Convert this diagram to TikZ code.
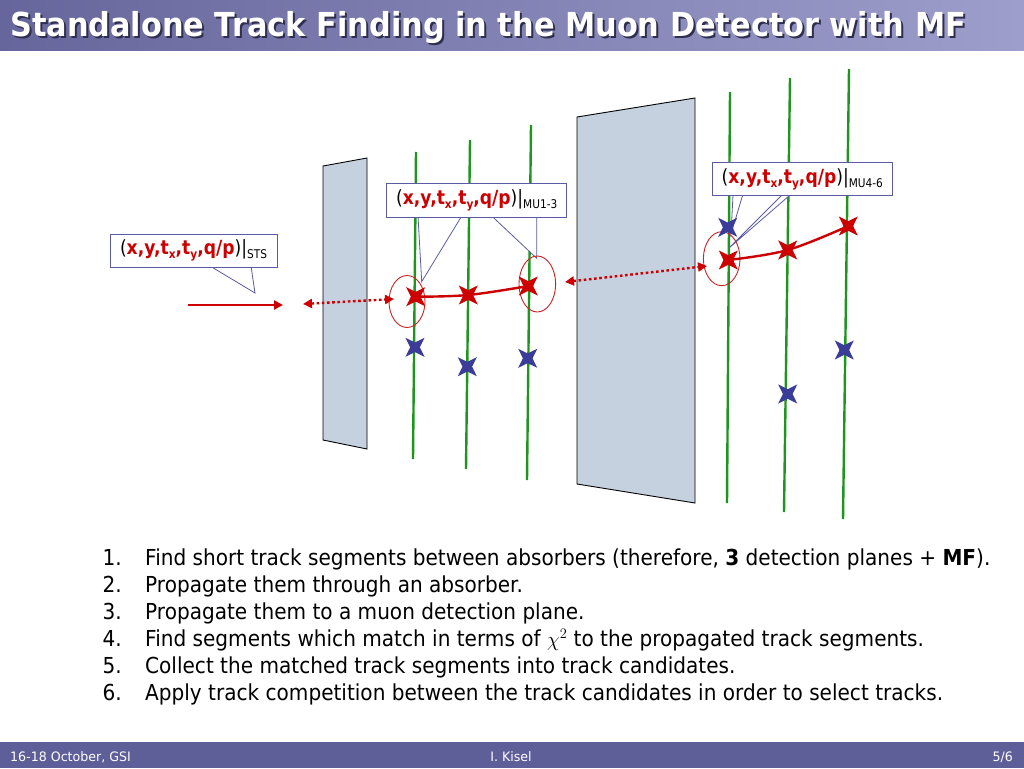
\documentclass[tikz,border=0pt]{standalone}
\usepackage{fontspec}
\setmainfont{DejaVu Sans}[FakeStretch=0.912]
\newfontfamily\titlefont{DejaVu Sans}[FakeStretch=0.92]
\newfontfamily\footfont{DejaVu Sans}[FakeStretch=0.97]
\newfontfamily\calloutfont{DejaVu Sans}[FakeStretch=0.88]
\usetikzlibrary{shapes.geometric,arrows.meta}
\definecolor{tbarL}{HTML}{66669C}
\definecolor{tbarR}{HTML}{9E9ECC}
\definecolor{fbar}{HTML}{5E5E98}
\definecolor{absfill}{HTML}{C6D1DF}
\definecolor{detgreen}{HTML}{1E961E}
\definecolor{trkred}{HTML}{CC0000}
\definecolor{ellred}{HTML}{CC2222}
\definecolor{hitblue}{HTML}{3B3B98}
\definecolor{cborder}{HTML}{5B5BA5}
\definecolor{shadowc}{HTML}{2E2E4E}
\newcommand{\lowtxt}[1]{\raisebox{-0.35ex}{\fontsize{12}{12}\selectfont #1}}
\newcommand{\statevec}[1]{(\textcolor{trkred}{\textbf{x,y,t\lowtxt{x},t\lowtxt{y},q/p}})|\lowtxt{\mdseries #1}}
\begin{document}
\begin{tikzpicture}[x=1pt,y=-1pt,
  absorber/.style={fill=absfill,draw=black,line width=0.9pt},
  det/.style={draw=detgreen,line width=2.4pt},
  callout/.style={fill=white,draw=cborder,line width=0.8pt},
  cbox/.style={fill=white,draw=cborder,line width=0.8pt,inner sep=0pt,
    font=\calloutfont\fontsize{19.5}{19.5}\selectfont},
  ell/.style={ellipse,draw=ellred,line width=0.9pt,inner sep=0pt},
  rstar/.style={star,star points=4,star point ratio=2.8,minimum size=27pt,
    inner sep=0pt,fill=trkred,rotate=45},
  bstar/.style={star,star points=4,star point ratio=2.8,minimum size=27pt,
    inner sep=0pt,fill=hitblue,rotate=45},
  rarrow/.style={draw=trkred,line width=2.4pt,-{Triangle[length=9pt,width=9pt]}},
  rdotted/.style={draw=trkred,line width=2.4pt,dash pattern=on 2.6pt off 2.6pt,
    {Triangle[length=9pt,width=9pt]}-{Triangle[length=9pt,width=9pt]}},
  track/.style={draw=trkred,line width=2.4pt},
  itm/.style={anchor=base west,inner sep=0pt,font=\fontsize{22}{22}\selectfont},
  num/.style={anchor=base east,inner sep=0pt,font=\fontsize{22}{22}\selectfont},
  foot/.style={inner sep=0pt,text=white,font=\footfont\fontsize{13}{13}\selectfont}
]
\useasboundingbox (0,0) rectangle (1024,768);
\fill[white] (0,0) rectangle (1024,768);
% title bar
\shade[left color=tbarL,right color=tbarR] (0,0) rectangle (1024,51);
\node[anchor=base west,inner sep=0pt,text=shadowc,font=\titlefont\bfseries\fontsize{33}{33}\selectfont] (titleshadow) at (12,39) {Standalone Track Finding in the Muon Detector with MF};
\node[anchor=base west,inner sep=0pt,text=white,font=\titlefont\bfseries\fontsize{33}{33}\selectfont] (title) at (10,37) {Standalone Track Finding in the Muon Detector with MF};
% footer bar
\fill[fbar] (0,742) rectangle (1024,768);
\node[foot,anchor=base west] (f1) at (10,761) {16-18 October, GSI};
\node[foot,anchor=base] (f2) at (511,761) {I. Kisel};
\node[foot,anchor=base east] (f3) at (1013,761) {5/6};
% absorbers
\filldraw[absorber] (323,166) -- (367,158) -- (367,449) -- (323,440) -- cycle;
\filldraw[absorber] (577,117) -- (695,98) -- (695,503) -- (577,484) -- cycle;
% detector planes
\draw[det] (416,152) -- (413,459);
\draw[det] (470,140) -- (466,469);
\draw[det] (531,125) -- (527,480);
\draw[det] (730,92) -- (727,503);
\draw[det] (790,78) -- (784,512);
\draw[det] (849,69) -- (843,519);
% callouts
\filldraw[callout] (210,266) -- (255,293) -- (251,266);
\node[cbox,minimum width=167pt,minimum height=33pt] (csts) at (193.5,250.5) {\statevec{STS}};
\filldraw[callout] (418,216) -- (421.7,281.7) -- (461.7,216);
\filldraw[callout] (491.7,216) -- (536.7,258.3) -- (536.7,216);
\node[cbox,minimum width=180pt,minimum height=34pt] (cmu1) at (476.7,200.3) {\statevec{MU1-3}};
\filldraw[callout] (733,195) -- (731,234) -- (742.7,195);
\filldraw[callout] (782,195) -- (729,248) -- (790,195);
\node[cbox,minimum width=180pt,minimum height=33pt] (cmu4) at (802.3,179.2) {\statevec{MU4-6}};
% search ellipses
\node[ell,minimum width=36pt,minimum height=52pt] (e1) at (407,301.5) {};
\node[ell,minimum width=36.6pt,minimum height=56pt] (e2) at (537.3,284) {};
\node[ell,minimum width=36.6pt,minimum height=54pt] (e3) at (721.7,258.7) {};
% arrows
\coordinate (a0) at (188,305);
\coordinate (a1) at (283,305);
\draw[rarrow] (a0) -- (a1);
\coordinate (d1a) at (303,304);
\coordinate (d1b) at (394,299);
\draw[rdotted] (d1a) -- (d1b);
\coordinate (d2a) at (565,282);
\coordinate (d2b) at (707,266);
\draw[rdotted] (d2a) -- (d2b);
% hits
\node[bstar] (b1) at (415,347.3) {};
\node[bstar] (b2) at (467.3,366.7) {};
\node[bstar] (b3) at (527.7,358.3) {};
\node[bstar] (b4) at (727.7,227.3) {};
\node[bstar] (b5) at (787.7,394) {};
\node[bstar] (b6) at (844.3,350) {};
\node[rstar] (r1) at (415.7,296.7) {};
\node[rstar] (r2) at (468.3,295) {};
\node[rstar] (r3) at (528.3,286) {};
\node[rstar] (r4) at (728.3,260) {};
\node[rstar] (r5) at (787.7,250) {};
\node[rstar] (r6) at (848.3,226) {};
% track segments
\draw[track] plot[smooth,tension=0.6] coordinates {(r1.center) (r2.center) (r3.center)};
\draw[track] plot[smooth,tension=0.6] coordinates {(r4.center) (r5.center) (r6.center)};
% list
\node[num] (n1) at (122,565) {1.};
\node[itm] (t1) at (145,565) {Find short track segments between absorbers (therefore, \textbf{3} detection planes + \textbf{MF}).};
\node[num] (n2) at (122,592) {2.};
\node[itm] (t2) at (145,592) {Propagate them through an absorber.};
\node[num] (n3) at (122,619) {3.};
\node[itm] (t3) at (145,619) {Propagate them to a muon detection plane.};
\node[num] (n4) at (122,646) {4.};
\node[itm] (t4) at (145,646) {Find segments which match in terms of $\chi^{2}$ to the propagated track segments.};
\node[num] (n5) at (122,673) {5.};
\node[itm] (t5) at (145,673) {Collect the matched track segments into track candidates.};
\node[num] (n6) at (122,700) {6.};
\node[itm] (t6) at (145,700) {Apply track competition between the track candidates in order to select tracks.};
\end{tikzpicture}
\end{document}
